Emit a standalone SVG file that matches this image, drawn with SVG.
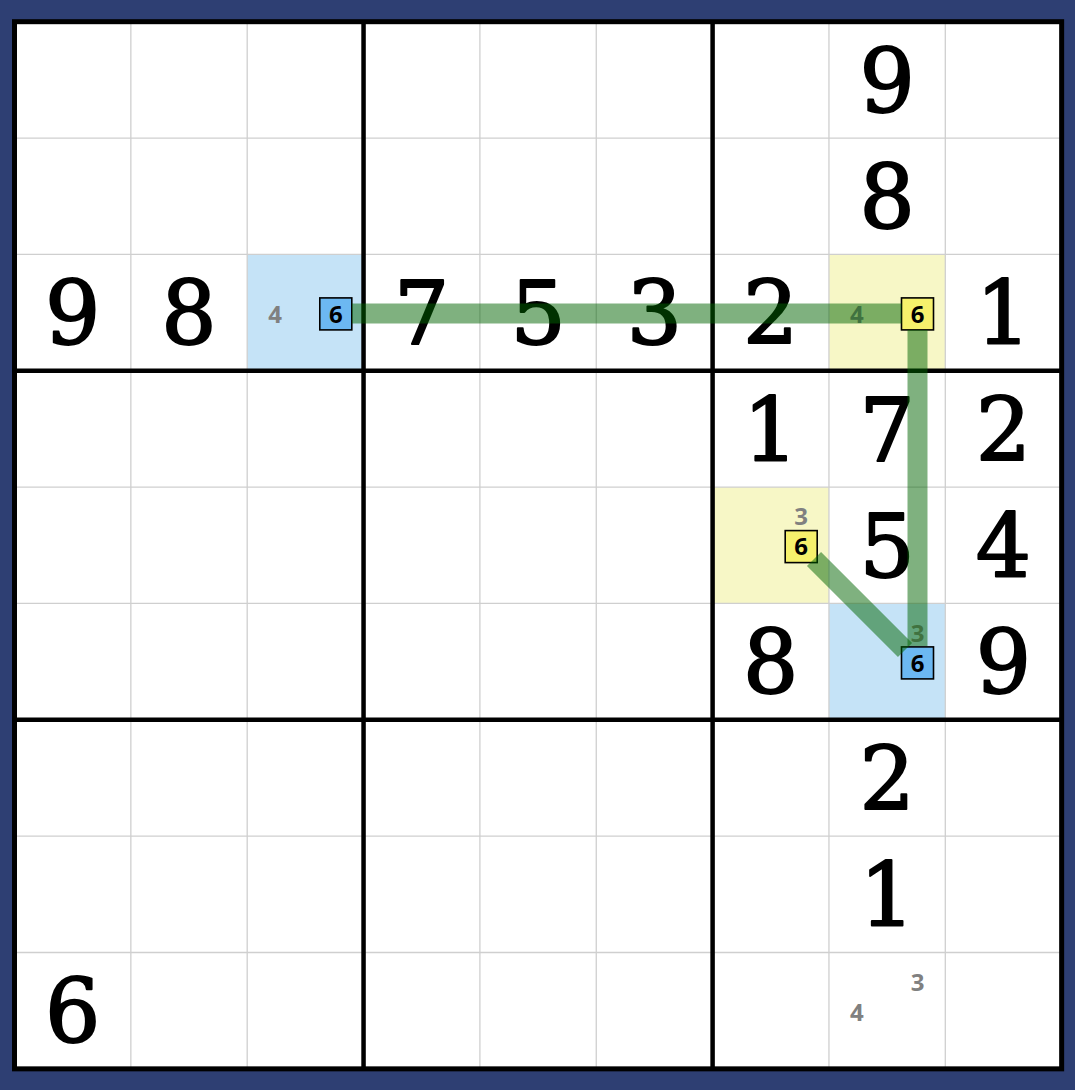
<svg xmlns="http://www.w3.org/2000/svg" width="1075" height="1090" viewBox="0 0 1075 1090">
<style>
.bg{fill:#2e3f73}
.board{fill:#ffffff}
.thin{stroke:#cfcfcf;stroke-width:1.3;fill:none}
.thick{stroke:#000;stroke-width:4.5;fill:none}
.outer{stroke:#000;stroke-width:5;fill:none}
.hb{fill:#c5e3f7}
.hy{fill:#f7f7c6}
.d{font-family:"DejaVu Serif","Liberation Serif",serif;font-size:87px;text-anchor:middle;fill:#000;stroke:#000;stroke-width:2;stroke-linejoin:round}
.c{font-family:"Open Sans","Noto Sans",sans-serif;font-weight:bold;font-size:24px;text-anchor:middle;fill:#808080}
.cb{font-family:"Open Sans","Noto Sans",sans-serif;font-weight:bold;font-size:24px;text-anchor:middle;fill:#000}
.bxb{fill:#6cb8f2;stroke:#000;stroke-width:1.6}
.bxy{fill:#f6f16c;stroke:#000;stroke-width:1.6}
.link{stroke:#006400;stroke-opacity:0.5;stroke-width:20;fill:none;stroke-linecap:butt}
</style>
<rect class="bg" x="0" y="0" width="1075" height="1090"/>
<rect class="board" x="14.5" y="21.7" width="1047.15" height="1047.15"/>
<g id="highlights">
<rect class="hb" x="247.2" y="254.4" width="116.35" height="116.35"/>
<rect class="hy" x="828.95" y="254.4" width="116.35" height="116.35"/>
<rect class="hy" x="712.6" y="487.1" width="116.35" height="116.35"/>
<rect class="hb" x="828.95" y="603.45" width="116.35" height="116.35"/>
</g>
<g id="grid">
<path class="thin" d="M130.85 21.7V1068.85M247.2 21.7V1068.85M479.9 21.7V1068.85M596.25 21.7V1068.85M828.95 21.7V1068.85M945.3 21.7V1068.85M14.5 138.05H1061.65M14.5 254.4H1061.65M14.5 487.1H1061.65M14.5 603.45H1061.65M14.5 836.15H1061.65M14.5 952.5H1061.65"/>
<path class="thick" d="M363.55 21.7V1068.85M712.6 21.7V1068.85M14.5 370.75H1061.65M14.5 719.8H1061.65"/>
<rect class="outer" x="14.5" y="21.7" width="1047.15" height="1047.15"/>
</g>
<g id="givens">
<text class="d" x="887.1" y="111.5">9</text>
<text class="d" x="887.1" y="227.8">8</text>
<text class="d" x="72.7" y="344.2">9</text>
<text class="d" x="189" y="344.2">8</text>
<text class="d" x="421.7" y="344.2">7</text>
<text class="d" x="538.1" y="344.2">5</text>
<text class="d" x="654.4" y="344.2">3</text>
<text class="d" x="770.8" y="344.2">2</text>
<text class="d" x="1003.5" y="344.2">1</text>
<text class="d" x="770.8" y="460.5">1</text>
<text class="d" x="887.1" y="460.5">7</text>
<text class="d" x="1003.5" y="460.5">2</text>
<text class="d" x="887.1" y="576.9">5</text>
<text class="d" x="1003.5" y="576.9">4</text>
<text class="d" x="770.8" y="693.2">8</text>
<text class="d" x="1003.5" y="693.2">9</text>
<text class="d" x="887.1" y="809.6">2</text>
<text class="d" x="887.1" y="925.9">1</text>
<text class="d" x="72.7" y="1042.3">6</text>
</g>
<g id="cell-r3c3">
<text class="c" x="275.2" y="322.5">4</text>
<rect class="bxb" x="319.8" y="297.9" width="32" height="32"/>
<text class="cb" x="335.8" y="322.5">6</text>
</g>
<g id="cell-r3c8">
<text class="c" x="856.9" y="322.5">4</text>
<rect class="bxy" x="901.5" y="297.9" width="32" height="32"/>
<text class="cb" x="917.5" y="322.5">6</text>
</g>
<g id="cell-r5c7">
<text class="c" x="801.2" y="525.2">3</text>
<rect class="bxy" x="785.2" y="530.6" width="32" height="32"/>
<text class="cb" x="801.2" y="555.2">6</text>
</g>
<g id="cell-r6c8">
<text class="c" x="917.5" y="641.5">3</text>
<rect class="bxb" x="901.5" y="646.9" width="32" height="32"/>
<text class="cb" x="917.5" y="671.5">6</text>
</g>
<g id="cell-r9c8">
<text class="c" x="917.5" y="990.6">3</text>
<text class="c" x="856.9" y="1020.6">4</text>
</g>
<g id="connectors">
<line class="link" x1="352" y1="313.5" x2="901.5" y2="313.5"/>
<line class="link" x1="917.5" y1="330" x2="917.5" y2="646"/>
<line class="link" x1="814" y1="559" x2="905" y2="650"/>
</g>
</svg>
